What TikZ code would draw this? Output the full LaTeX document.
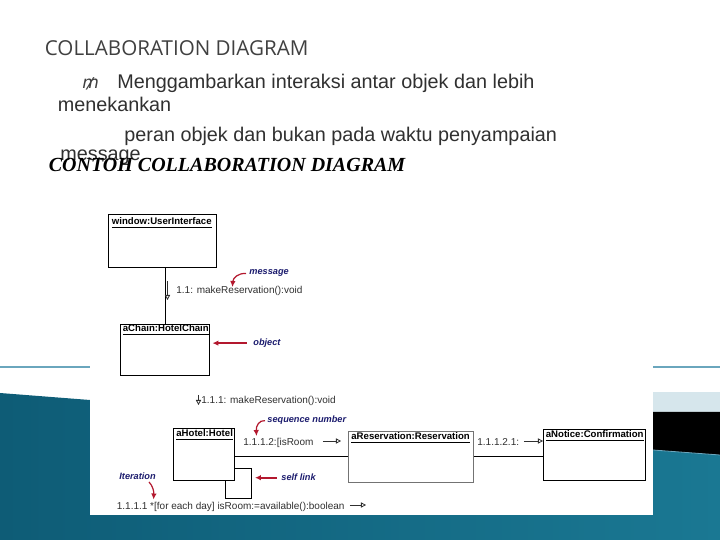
\documentclass[tikz,border=0pt]{standalone}
\usepackage{fontspec}
\setmainfont{Liberation Sans}
\newfontfamily\headfont{Open Sans}
\newfontfamily\serifhead{Liberation Serif}
\newfontfamily\symfont{DejaVu Sans}
\usetikzlibrary{arrows.meta, positioning, calc}
\definecolor{cteal}{HTML}{0E5C76}
\definecolor{cmid}{HTML}{47AED1}
\definecolor{cright}{HTML}{1A7893}
\definecolor{cline}{HTML}{6AA6BD}
\definecolor{cband}{HTML}{D6E6EC}
\definecolor{cred}{HTML}{B3182E}
\definecolor{cnavy}{HTML}{1C1C6E}
\definecolor{cgrey}{HTML}{404040}
\definecolor{ctext}{HTML}{303030}
\tikzset{
  every picture/.style={x=0.5pt, y=-0.5pt},
  txt/.style={inner sep=0pt, anchor=base west},
  body/.style={txt, font=\fontsize{9.9pt}{11pt}\selectfont, text=ctext},
  obj/.style={draw=black, line width=0.5pt, anchor=north west, inner sep=0pt},
  objname/.style={inner sep=0pt, anchor=base west, font=\fontsize{4.8pt}{6pt}\selectfont\bfseries},
  msg/.style={txt, font=\fontsize{5pt}{6pt}\selectfont, text=ctext},
  remark/.style={txt, font=\fontsize{4.6pt}{6pt}\selectfont\bfseries\itshape, text=cnavy},
  link/.style={draw=black, line width=0.5pt},
  msgarrow/.style={-{Triangle[open, length=2.5pt, width=2.6pt]}, draw=ctext, line width=0.4pt},
  pointer/.style={-{Latex[length=3pt, width=2.8pt]}, draw=cred, line width=1pt},
  thinpointer/.style={-{Latex[length=3pt, width=2.8pt]}, draw=cred, line width=0.6pt},
}

\begin{document}
\begin{tikzpicture}
  \useasboundingbox (0,0) rectangle (720,540);
  % slide background
  \draw[cline, line width=0.6pt] (0,367) -- (720,367);
  \shade[left color=cteal, middle color=cmid, right color=cright]
    (0,393) -- (90,400) -- (653,450) -- (720,455) -- (720,540) -- (0,540) -- cycle;
  \fill[cband] (653,392) rectangle (720,412);
  \fill[black] (653,412) -- (720,412) -- (720,455) -- (653,450) -- cycle;
  \draw[cline, line width=0.4pt] (653,450) -- (720,455);

  % slide text
  \node[txt, font=\headfont\fontsize{10.3pt}{12pt}\selectfont, text=cgrey] (title) at (44.5,56) {COLLABORATION DIAGRAM};
  \node[txt, font=\symfont\fontsize{8.5pt}{10pt}\selectfont\itshape, text=cgrey] (bullet) at (82,89) {₥};
  \node[body] (line1) at (117,89) {Menggambarkan interaksi antar objek dan lebih};
  \node[body] (line2) at (57.5,112) {menekankan};
  \node[body] (line3) at (124,141.5) {peran objek dan bukan pada waktu penyampaian};
  \node[body] (line4) at (60,161) {message};
  \node[txt, font=\serifhead\fontsize{10pt}{11pt}\selectfont\bfseries\itshape] (sub) at (48.5,172) {CONTOH COLLABORATION DIAGRAM};

  % pasted diagram
  \fill[white] (90,190) rectangle (653,515);

  \node[obj, minimum width=54pt, minimum height=26.5pt] (ui) at (108.5,214) {};
  \node[obj, minimum width=44.5pt, minimum height=25.5pt] (chain) at (120.5,324) {};
  \node[obj, minimum width=30.5pt, minimum height=26pt] (hotel) at (173,428) {};
  \node[obj, draw=black!55, minimum width=62.5pt, minimum height=25.5pt] (res) at (348,431) {};
  \node[obj, minimum width=51pt, minimum height=25.5pt] (notice) at (543.5,429) {};

  \node[objname] (uiT) at ([shift={(1.5pt,-5.5pt)}]ui.north west) {\underline{window:UserInterface}};
  \node[objname] (chainT) at ([shift={(1pt,-4pt)}]chain.north west) {\underline{aChain:HotelChain}};
  \node[objname] (hotelT) at ([shift={(1.5pt,-4.5pt)}]hotel.north west) {\underline{aHotel:Hotel}};
  \node[objname] (resT) at ([shift={(1.5pt,-4.5pt)}]res.north west) {\underline{aReservation:Reservation}};
  \node[objname] (noticeT) at ([shift={(1pt,-4.5pt)}]notice.north west) {\underline{aNotice:Confirmation}};

  \draw[link] (chain.north) -- (chain.north |- ui.south);
  \draw[link] (res.west) -- (res.west -| hotel.east);
  \draw[link] (res.east) -- (res.east -| notice.west);
  \coordinate (loopA) at (252,469);
  \coordinate (loopB) at (225.5,499);
  \draw[link] (hotel.east |- loopA) -| (loopA |- loopB) -| (hotel.south -| loopB);

  % messages
  \node[msg] (msgA) at (176,294) {1.1: makeReservation():void};
  \node[msg] (msgB) at (201,404) {1.1.1: makeReservation():void};
  \node[msg] (msgC) at (243,446) {1.1.1.2:[isRoom};
  \node[msg] (msgD) at (477,446) {1.1.1.2.1:};
  \node[msg] (msgE) at (116.5,510) {1.1.1.1 *[for each day] isRoom:=available():boolean};
  \coordinate (gA) at (167.5,281);
  \coordinate (gB) at (198.5,395);
  \coordinate (gC) at (323,441);
  \coordinate (gD) at (524,441);
  \coordinate (gE) at (350,505);
  \draw[msgarrow] (gA) -- ++(0,19);
  \draw[msgarrow] (gB) -- ++(0,10);
  \draw[msgarrow] (gC) -- ++(18,0);
  \draw[msgarrow] (gD) -- ++(19,0);
  \draw[msgarrow] (gE) -- ++(16,0);

  % remarks
  \node[remark] (msgR) at (249,275) {message};
  \node[remark] (objR) at (253,345.5) {object};
  \node[remark] (seqR) at (267,423) {sequence number};
  \node[remark] (selfR) at (281,481) {self link};
  \node[remark] (iterR) at (119,480) {Iteration};
  \coordinate (msgP) at (232.5,287);
  \coordinate (seqP) at (256.5,436);
  \coordinate (iterP) at (153.5,499.5);
  \draw[thinpointer] ([xshift=-1.5pt]msgR.west) .. controls (238,273) and (233,278) .. (msgP);
  \draw[thinpointer] ([xshift=-1pt]seqR.west) .. controls (259,420) and (256,426) .. (seqP);
  \draw[thinpointer] (149,482) .. controls (153,486) and (154,492) .. (iterP);
  \draw[pointer, shorten >=1pt] ([xshift=-3pt]objR.west) -- (objR.west -| chain.east);
  \draw[pointer, shorten >=1.5pt] ([xshift=-2pt]selfR.west) -- (selfR.west -| loopA);
\end{tikzpicture}
\end{document}
